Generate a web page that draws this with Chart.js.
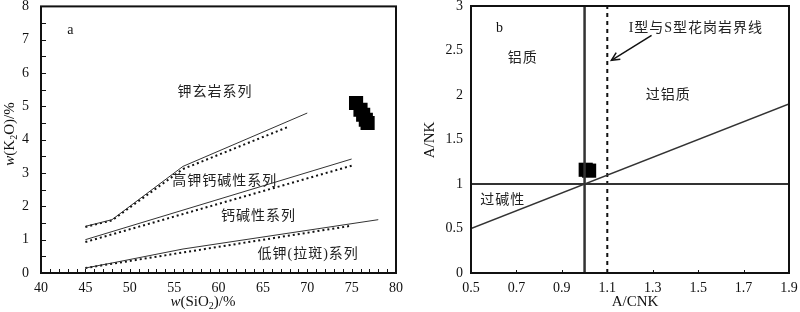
<!DOCTYPE html>
<html>
<head>
<meta charset="utf-8">
<script src="https://cdn.jsdelivr.net/npm/chart.js@4.4.1/dist/chart.umd.min.js"></script>
<style>
  html, body { margin: 0; padding: 0; background: #fff; }
  #wrap { position: relative; width: 800px; height: 312px; overflow: hidden; }
  .half { position: absolute; top: -14px; width: 412px; height: 326px; }
</style>
</head>
<body>
<div id="wrap">
  <div class="half" style="left:0"><canvas id="chart-k2o" width="412" height="326"></canvas></div>
  <div class="half" style="left:400px"><canvas id="chart-acnk" width="412" height="326"></canvas></div>
</div>
<script>
// ---- figure a: SiO2 vs K2O ----
const shoSiO2 = [45, 48, 56, 70];
const shoK2O = [1.4, 1.6, 3.2, 4.8];
const shoSiO2Dot = [45, 48, 56, 68];
const shoK2ODot = [1.38, 1.58, 3.12, 4.4];
const hkSiO2 = [45, 75];
const hkK2O = [1.0, 3.42];
const hkSiO2Dot = [45, 75];
const hkK2ODot = [0.93, 3.22];
const lkSiO2 = [45, 48, 56, 78];
const lkK2O = [0.15, 0.3, 0.72, 1.6];
const lkSiO2Dot = [45, 75];
const lkK2ODot = [0.15, 1.42];
const sampleSiO2 = [75.5, 76.0, 76.3, 76.6, 76.8];
const sampleK2O = [5.1, 4.9, 4.75, 4.6, 4.5];
const seriesNames = ['钾玄岩系列', '高钾钙碱性系列', '钙碱性系列', '低钾(拉斑)系列'];
const seriesNameX = [59.6, 60.7, 64.5, 70.1];
const seriesNameY = [5.43, 2.75, 1.71, 0.57];

// ---- figure b: A/CNK vs A/NK ----
const acnkTicks = [0.5, 0.7, 0.9, 1.1, 1.3, 1.5, 1.7, 1.9];
const sampleACNK = [1.005, 1.02];
const sampleANK = [1.16, 1.15];
const diagX = [0.5, 1.9];
const diagY = [0.5, 1.9];
const fieldNames = ['铝质', '过铝质', '过碱性', 'I型与S型花岗岩界线'];
const fieldNameX = [0.728, 1.368, 0.64, 1.49];
const fieldNameY = [2.41, 2.0, 0.82, 2.75];
const arrowX = [1.295, 1.118];
const arrowY = [2.67, 2.39];

const serif = "'Liberation Serif', 'Noto Sans CJK SC', serif";
const ink = '#111';
const shift = 14; // canvases sit 14px above the page top

const pts = (xs, ys) => xs.map((x, i) => ({ x, y: ys[i] }));

function solid(xs, ys, w) {
  return { data: pts(xs, ys), showLine: true, borderColor: '#333', borderWidth: w || 1, pointRadius: 0, fill: false };
}
function dotted(xs, ys) {
  return { data: pts(xs, ys), showLine: true, borderColor: ink, borderWidth: 2, borderDash: [2, 3], pointRadius: 0, fill: false };
}

// draws rich text like w(K2O)/% with italic w and subscript
function richText(ctx, parts, x, y, rot) {
  const size = 15;
  const font = (p) => `${p.italic ? 'italic ' : ''}${p.sub ? 10 : size}px 'Liberation Serif', serif`;
  let total = 0;
  parts.forEach(p => { ctx.font = font(p); total += ctx.measureText(p.t).width; });
  ctx.save();
  ctx.translate(x, y);
  if (rot) ctx.rotate(-Math.PI / 2);
  ctx.fillStyle = ink;
  ctx.textBaseline = 'middle';
  ctx.textAlign = 'left';
  let cx = -total / 2;
  parts.forEach(p => {
    ctx.font = font(p);
    ctx.fillText(p.t, cx, p.sub ? 4 : 0);
    cx += ctx.measureText(p.t).width;
  });
  ctx.restore();
}

function frame(ctx, a, w) {
  ctx.save();
  ctx.strokeStyle = ink;
  ctx.lineWidth = w;
  ctx.strokeRect(a.left, a.top, a.right - a.left, a.bottom - a.top);
  ctx.restore();
}

function labels(ctx, names, xs, ys, x, y) {
  ctx.save();
  ctx.fillStyle = '#222';
  ctx.textAlign = 'center';
  ctx.textBaseline = 'middle';
  ctx.font = `14px ${serif}`;
  ctx.letterSpacing = '1px';
  names.forEach((t, i) => ctx.fillText(t, x.getPixelForValue(xs[i]), y.getPixelForValue(ys[i])));
  ctx.restore();
}

const baseOpts = {
  responsive: false,
  animation: false,
  events: [],
  plugins: { legend: { display: false }, tooltip: { enabled: false } }
};

function axis(min, max, step, width, height, pad, extra) {
  return Object.assign({
    type: 'linear', min, max,
    grid: { display: false, drawTicks: false },
    border: { display: false },
    ticks: { stepSize: step, color: ink, padding: pad, font: { family: serif, size: 14 } },
    afterFit(s) {
      if (width) s.width = width;
      if (height) s.height = height;
    }
  }, extra || {});
}

new Chart(document.getElementById('chart-k2o'), {
  type: 'scatter',
  data: {
    datasets: [
      solid(shoSiO2, shoK2O),
      dotted(shoSiO2Dot, shoK2ODot),
      solid(hkSiO2, hkK2O),
      dotted(hkSiO2Dot, hkK2ODot),
      solid(lkSiO2, lkK2O),
      dotted(lkSiO2Dot, lkK2ODot),
      { data: pts(sampleSiO2, sampleK2O), pointStyle: 'rect', pointRadius: 10, backgroundColor: '#000', borderColor: '#000', borderWidth: 0 }
    ]
  },
  options: {
    ...baseOpts,
    layout: { padding: { top: 6 + shift, right: 16, left: 0, bottom: 0 } },
    scales: {
      x: axis(40, 80, 5, 0, 53 - shift, 7),
      y: axis(0, 8, 1, 41, 0, 12)
    }
  },
  plugins: [{
    id: 'k2oDecor',
    afterDatasetsDraw(chart) {
      const { ctx, chartArea: a, scales: { x, y } } = chart;
      ctx.save();
      ctx.strokeStyle = ink;
      ctx.lineWidth = 1;
      for (let v = 40; v <= 80; v++) {
        const px = Math.round(x.getPixelForValue(v)) + 0.5;
        ctx.beginPath(); ctx.moveTo(px, a.bottom); ctx.lineTo(px, a.bottom - 4); ctx.stroke();
      }
      for (let v = 0; v <= 8; v += 0.5) {
        const py = Math.round(y.getPixelForValue(v)) + 0.5;
        ctx.beginPath(); ctx.moveTo(a.left, py); ctx.lineTo(a.left + 5, py); ctx.stroke();
      }
      ctx.restore();
      frame(ctx, a, 2);

      labels(ctx, seriesNames, seriesNameX, seriesNameY, x, y);
      ctx.save();
      ctx.fillStyle = ink;
      ctx.textAlign = 'center';
      ctx.textBaseline = 'middle';
      ctx.font = `14px ${serif}`;
      ctx.fillText('a', x.getPixelForValue(43.3), y.getPixelForValue(7.28));
      ctx.restore();

      richText(ctx, [{ t: 'w', italic: true }, { t: '(K' }, { t: '2', sub: true }, { t: 'O)/%' }], 10, 134 + shift, true);
      richText(ctx, [{ t: 'w', italic: true }, { t: '(SiO' }, { t: '2', sub: true }, { t: ')/%' }], 203, 302 + shift, false);
    }
  }]
});

new Chart(document.getElementById('chart-acnk'), {
  type: 'scatter',
  data: {
    datasets: [
      solid(diagX, diagY, 1.5),
      solid([1, 1], [0, 3], 2.5),
      solid([0.5, 1.9], [1, 1], 2),
      { ...dotted([1.1, 1.1], [0, 3]), borderDash: [4, 4] },
      { data: pts(sampleACNK, sampleANK), pointStyle: 'rect', pointRadius: 10, backgroundColor: '#000', borderColor: '#000', borderWidth: 0 }
    ]
  },
  options: {
    ...baseOpts,
    layout: { padding: { top: 6 + shift, right: 23, left: 0, bottom: 0 } },
    scales: {
      x: axis(0.5, 1.9, 0.2, 0, 53 - shift, 7, {
        afterBuildTicks(s) { s.ticks = acnkTicks.map(v => ({ value: v })); },
        ticks: { color: ink, padding: 7, font: { family: serif, size: 14 }, callback: v => v.toFixed(1) }
      }),
      y: axis(0, 3, 0.5, 71, 0, 8, {
        ticks: { stepSize: 0.5, color: ink, padding: 8, font: { family: serif, size: 14 }, callback: v => String(v) }
      })
    }
  },
  plugins: [{
    id: 'acnkDecor',
    afterDatasetsDraw(chart) {
      const { ctx, chartArea: a, scales: { x, y } } = chart;
      ctx.save();
      ctx.strokeStyle = ink;
      ctx.lineWidth = 1;
      acnkTicks.forEach(v => {
        const px = Math.round(x.getPixelForValue(v)) + 0.5;
        ctx.beginPath(); ctx.moveTo(px, a.bottom); ctx.lineTo(px, a.bottom - 3); ctx.stroke();
      });
      ctx.restore();
      frame(ctx, a, 2);

      labels(ctx, fieldNames, fieldNameX, fieldNameY, x, y);
      ctx.save();
      ctx.fillStyle = ink;
      ctx.textAlign = 'center';
      ctx.textBaseline = 'middle';
      ctx.font = `14px ${serif}`;
      ctx.fillText('b', x.getPixelForValue(0.625), y.getPixelForValue(2.75));

      // arrow to the I/S boundary
      const x0 = x.getPixelForValue(arrowX[0]), y0 = y.getPixelForValue(arrowY[0]);
      const x1 = x.getPixelForValue(arrowX[1]), y1 = y.getPixelForValue(arrowY[1]);
      ctx.strokeStyle = ink;
      ctx.lineWidth = 1.5;
      ctx.beginPath(); ctx.moveTo(x0, y0); ctx.lineTo(x1, y1); ctx.stroke();
      const ang = Math.atan2(y1 - y0, x1 - x0);
      ctx.beginPath();
      ctx.moveTo(x1 - 9 * Math.cos(ang - 0.45), y1 - 9 * Math.sin(ang - 0.45));
      ctx.lineTo(x1, y1);
      ctx.lineTo(x1 - 9 * Math.cos(ang + 0.45), y1 - 9 * Math.sin(ang + 0.45));
      ctx.stroke();

      ctx.font = `15px 'Liberation Serif', serif`;
      ctx.fillText('A/CNK', 235, 302 + shift);
      ctx.translate(30, 140 + shift);
      ctx.rotate(-Math.PI / 2);
      ctx.fillText('A/NK', 0, 0);
      ctx.restore();
    }
  }]
});
</script>
</body>
</html>
